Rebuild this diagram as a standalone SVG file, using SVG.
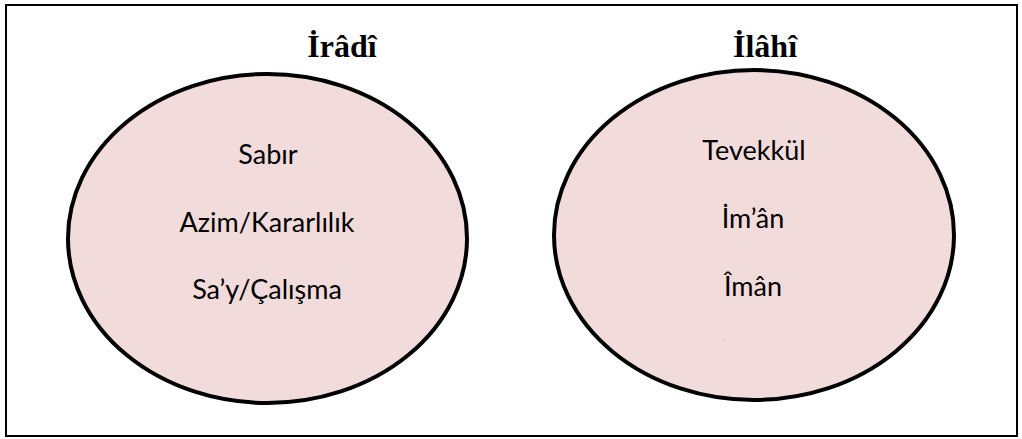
<svg xmlns="http://www.w3.org/2000/svg" width="1022" height="439" viewBox="0 0 1022 439">
<style>
.frame{fill:#ffffff;stroke:#000000;stroke-width:2}
.oval{fill:#f2dcdb;stroke:#000000;stroke-width:4}
.title{font-family:"Liberation Serif","Times New Roman",serif;font-weight:bold;font-size:32px;fill:#000;text-anchor:middle}
.item{font-family:Lato,"Liberation Sans",sans-serif;font-size:27px;fill:#000;text-anchor:middle}
</style>
<rect class="frame" x="6" y="5" width="1011" height="431"/>
<g id="iradi">
<text class="title" x="342" y="57">İrâdî</text>
<ellipse class="oval" cx="267.5" cy="238.5" rx="199.5" ry="164.5"/>
<text class="item" x="268" y="164">Sabır</text>
<text class="item" x="267" y="232">Azim/Kararlılık</text>
<text class="item" x="267" y="299">Sa’y/Çalışma</text>
</g>
<g id="ilahi">
<text class="title" x="765" y="57">İlâhî</text>
<ellipse class="oval" cx="754" cy="235" rx="200" ry="165"/>
<text class="item" x="754" y="160">Tevekkül</text>
<text class="item" x="753" y="228">İm’ân</text>
<text class="item" x="753" y="296">Îmân</text>
<text class="item" x="724" y="341" style="font-size:4px">-</text>
</g>
<g id="connectors"/>
</svg>
